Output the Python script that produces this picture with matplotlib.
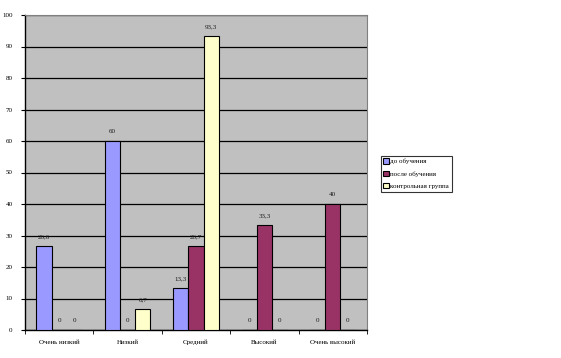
import numpy as np
import matplotlib.pyplot as plt

categories = ['Очень низкий', 'Низкий', 'Средний', 'Высокий', 'Очень высокий']
series_names = ['до обучения', 'после обучения', 'контрольная группа']
before = [26.6, 60, 13.3, 0, 0]
after = [0, 0, 26.7, 33.3, 40]
control = [0, 6.7, 93.3, 0, 0]
colors = ['#9999FF', '#993366', '#FFFFCC']

plt.rcParams['font.family'] = ['Liberation Serif', 'DejaVu Serif']

fig = plt.figure(figsize=(5.61, 3.58), dpi=100)
ax = fig.add_axes([25 / 561, 1 - 330 / 358, 342 / 561, 315 / 358])
ax.set_facecolor('#C0C0C0')

x = np.arange(len(categories))
w = 1 / 4.5
for i, (vals, name, c) in enumerate(zip([before, after, control], series_names, colors)):
    pos = x + (i - 1) * w
    ax.bar(pos, vals, width=w, color=c, edgecolor='black', linewidth=0.8, label=name, zorder=3)
    for p, v in zip(pos, vals):
        txt = ('%g' % v).replace('.', ',')
        ax.text(p, v + 2.2, txt, ha='center', va='bottom', fontsize=5, color='#1a1a1a', zorder=4)

ax.set_xlim(-0.5, len(categories) - 0.5)
ax.set_ylim(0, 100)
ax.set_yticks(range(0, 101, 10))
ax.set_yticklabels([str(t) for t in range(0, 101, 10)], fontsize=5)
ax.yaxis.grid(True, color='black', linewidth=0.9, zorder=1)
ax.set_axisbelow(True)

ax.set_xticks(x)
ax.set_xticklabels(categories, fontsize=5)
ax.set_xticks(np.arange(-0.5, len(categories), 1), minor=True)
ax.tick_params(axis='x', which='major', length=0, pad=7)
ax.tick_params(axis='x', which='minor', length=3, direction='out')
ax.tick_params(axis='y', length=3, direction='out', pad=6)

for s in ['top', 'right']:
    ax.spines[s].set_color('#808080')
for s in ['left', 'bottom']:
    ax.spines[s].set_color('black')
    ax.spines[s].set_linewidth(1)

leg = fig.legend(loc='upper left', bbox_to_anchor=(381 / 561, 1 - 156 / 358),
                 fontsize=5, frameon=True, fancybox=False, edgecolor='black',
                 handlelength=0.8, handleheight=0.8, handletextpad=0.2,
                 borderpad=0.35, labelspacing=0.9, borderaxespad=0)
leg.get_frame().set_linewidth(0.8)

fig.savefig('out.png', dpi=100)
